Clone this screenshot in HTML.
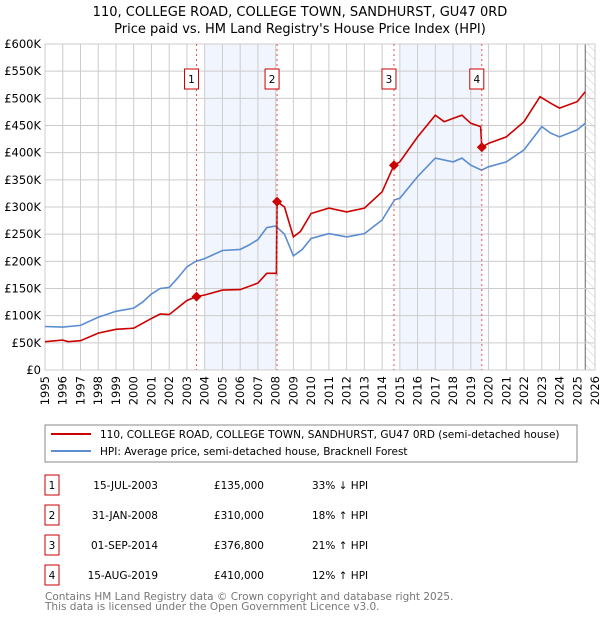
<!DOCTYPE html>
<html><head><meta charset="utf-8"><style>
body{margin:0;background:#fff;font-family:"DejaVu Sans","Liberation Sans",sans-serif;}
svg text{font-family:"DejaVu Sans","Liberation Sans",sans-serif;}
</style></head><body>
<svg id="chart" width="600" height="620" viewBox="0 0 600 620" xmlns="http://www.w3.org/2000/svg">
<defs><pattern id="hatch" width="6" height="6" patternUnits="userSpaceOnUse" patternTransform="rotate(-45)"><line x1="0" y1="0" x2="0" y2="6" stroke="#ccc" stroke-width="1"/></pattern></defs>
<text x="300" y="16" font-size="13" text-anchor="middle" fill="#000">110, COLLEGE ROAD, COLLEGE TOWN, SANDHURST, GU47 0RD</text>
<text x="300" y="33" font-size="13" text-anchor="middle" fill="#000">Price paid vs. HM Land Registry's House Price Index (HPI)</text>
<g id="bands"></g><g id="grid"></g><g id="axes"></g><g id="series"></g><g id="markers"></g>
<rect x="45" y="425" width="532" height="37" fill="#fff" stroke="#888"/>
<line x1="51" y1="434" x2="91" y2="434" stroke="#cc0000" stroke-width="2"/>
<text x="100" y="438" font-size="10.5">110, COLLEGE ROAD, COLLEGE TOWN, SANDHURST, GU47 0RD (semi-detached house)</text>
<line x1="51" y1="451" x2="91" y2="451" stroke="#5b8dd0" stroke-width="2"/>
<text x="100" y="455" font-size="10.5">HPI: Average price, semi-detached house, Bracknell Forest</text>
<g id="table" font-size="10.5"></g>
<text x="45" y="600" font-size="10.5" fill="#777">Contains HM Land Registry data © Crown copyright and database right 2025.</text>
<text x="45" y="610" font-size="10.5" fill="#777">This data is licensed under the Open Government Licence v3.0.</text>
</svg>
<script>
const hpiYears=[1995,1996,1997,1998,1999,2000,2000.5,2001,2001.5,2002,2002.5,2003,2003.5,2004,2005,2006,2006.5,2007,2007.5,2008,2008.5,2009,2009.5,2010,2011,2012,2013,2014,2014.7,2015,2016,2017,2018,2018.5,2019,2019.6,2020,2021,2022,2023,2023.5,2024,2025,2025.45];
const hpiValues=[80,79,82,97,108,114,125,140,150,152,170,190,200,205,220,222,230,240,262,265,250,210,222,242,251,245,251,276,313,316,356,390,383,390,377,368,374,383,405,448,436,429,442,454];
const priceYears=[1995,1996,1996.3,1997,1998,1999,2000,2001,2001.5,2002,2002.5,2003,2003.54,2004,2005,2006,2007,2007.5,2008.05,2008.08,2008.5,2009,2009.4,2010,2011,2012,2013,2014,2014.67,2015,2016,2017,2017.5,2018,2018.5,2019,2019.55,2019.62,2020,2021,2022,2022.9,2023.5,2024,2025,2025.45];
const priceValues=[52,55,52,54,68,75,77,95,103,102,115,128,135,138,147,148,160,178,178,310,300,245,255,288,298,291,298,328,377,383,429,469,457,463,469,454,448,410,417,429,457,503,491,482,494,512];
const saleLabels=["1","2","3","4"];
const saleYears=[2003.54,2008.08,2014.67,2019.62];
const saleValues=[135,310,376.8,410];
const saleDates=["15-JUL-2003","31-JAN-2008","01-SEP-2014","15-AUG-2019"];
const salePrices=["£135,000","£310,000","£376,800","£410,000"];
const saleHpi=["33% ↓ HPI","18% ↑ HPI","21% ↑ HPI","12% ↑ HPI"];
const yTicks=[0,50,100,150,200,250,300,350,400,450,500,550,600];
const yTickLabels=["£0","£50K","£100K","£150K","£200K","£250K","£300K","£350K","£400K","£450K","£500K","£550K","£600K"];
const xTicks=[1995,1996,1997,1998,1999,2000,2001,2002,2003,2004,2005,2006,2007,2008,2009,2010,2011,2012,2013,2014,2015,2016,2017,2018,2019,2020,2021,2022,2023,2024,2025,2026];

const NS="http://www.w3.org/2000/svg";
const L=45,R=595,T=44,B=370;
const x=v=>L+(v-1995)*(R-L)/31;
const y=v=>B-v*(B-T)/600;
function mk(tag,attrs,parent){const e=document.createElementNS(NS,tag);for(const k in attrs)e.setAttribute(k,attrs[k]);parent.appendChild(e);return e;}
const bands=document.getElementById('bands'),grid=document.getElementById('grid'),axes=document.getElementById('axes'),series=document.getElementById('series'),markers=document.getElementById('markers'),table=document.getElementById('table');
[[0,1],[2,3]].forEach((p,i)=>{const s=Math.ceil(saleYears[p[0]]),e=saleYears[p[1]];
 const r=mk('rect',{x:x(s),y:T,width:x(e)-x(s),height:B-T,fill:'#eef3fc',opacity:0.8},bands);
 
 });
const h=mk('rect',{x:x(2025.45),y:T,width:R-x(2025.45),height:B-T,fill:'url(#hatch)'},bands);


mk('line',{x1:x(2025.45),y1:T,x2:x(2025.45),y2:B,stroke:'#666','stroke-width':1},bands);
yTicks.forEach((v,i)=>{mk('line',{x1:L,x2:R,y1:y(v),y2:y(v),stroke:'#ccc'},grid);
 const t=mk('text',{x:L-4,y:y(v)+4,'font-size':11.5,'text-anchor':'end'},axes);t.textContent=yTickLabels[i];
 
 });
xTicks.forEach(v=>{mk('line',{x1:x(v),x2:x(v),y1:T,y2:B,stroke:'#ccc'},grid);
 const t=mk('text',{x:0,y:0,'font-size':11.5,'text-anchor':'end',transform:`translate(${x(v)+4},${B+6}) rotate(-90)`},axes);t.textContent=v;
 
 });
mk('rect',{x:L,y:T,width:R-L,height:B-T,fill:'none',stroke:'#ccc'},grid);
function line(xs,vs,col,name){const p=mk('polyline',{points:xs.map((a,i)=>x(a).toFixed(1)+','+y(vs[i]).toFixed(1)).join(' '),fill:'none',stroke:col,'stroke-width':1.6},series);
 
 }
line(hpiYears,hpiValues,'#5b8dd0','hpi-line');
line(priceYears,priceValues,'#cc0000','price-paid-line');
saleYears.forEach((s,i)=>{
 mk('line',{x1:x(s),x2:x(s),y1:T,y2:B,stroke:'#e05555','stroke-dasharray':'2,3','stroke-width':1},markers);
 const d=mk('path',{d:`M${x(s)},${y(saleValues[i])-5}l5,5l-5,5l-5,-5z`,fill:'#cc0000'},markers);
 
 
 const b=mk('rect',{x:x(s)-12,y:69,width:14,height:20,fill:'#fff',stroke:'#cc0000'},markers);
 
 
 const t=mk('text',{x:x(s)-5,y:83,'font-size':10.5,'text-anchor':'middle'},markers);t.textContent=saleLabels[i];
 const ty=483+i*30;
 const tb=mk('rect',{x:45,y:ty-8,width:14,height:20,fill:'#fff',stroke:'#cc0000'},table);
 
 
 mk('text',{x:52,y:ty+6,'text-anchor':'middle'},table).textContent=saleLabels[i];
 const a=mk('text',{x:158,y:ty+6,'text-anchor':'end'},table);a.textContent=saleDates[i];
 
 
 const b2=mk('text',{x:264,y:ty+6,'text-anchor':'end'},table);b2.textContent=salePrices[i];
 
 
 const c=mk('text',{x:312,y:ty+6},table);c.textContent=saleHpi[i];
 
 
});
</script>
</body></html>
